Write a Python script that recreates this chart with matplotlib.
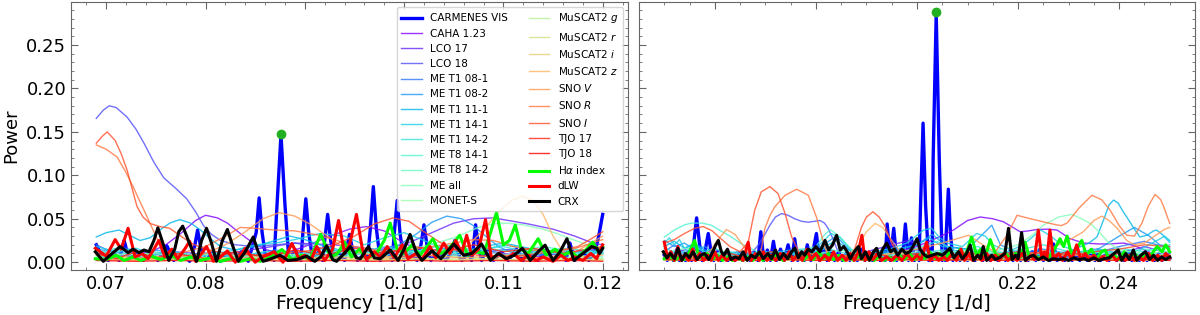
import numpy as np
import matplotlib
matplotlib.use("Agg")
import matplotlib.pyplot as plt
from matplotlib.ticker import MultipleLocator

# ---- data: (frequency [1/d], power) ----
# left panel 0.069-0.120, right panel 0.150-0.250

carm_L = [(0.0690,0.020),(0.0696,0.006),(0.0702,0.002),(0.0708,0.010),(0.0713,0.002),(0.0718,0.025),(0.0723,0.003),
          (0.0730,0.012),(0.0737,0.002),(0.0745,0.008),(0.0752,0.002),(0.0761,0.019),(0.0768,0.002),(0.0776,0.010),
          (0.0784,0.001),(0.0789,0.018),(0.0792,0.037),(0.0795,0.018),(0.0800,0.002),(0.0808,0.012),(0.0815,0.001),
          (0.0822,0.010),(0.0829,0.002),(0.0836,0.012),(0.0843,0.001),(0.0851,0.034),(0.0854,0.074),(0.0857,0.034),
          (0.0861,0.002),(0.0866,0.010),(0.0869,0.002),(0.0872,0.066),(0.0876,0.147),(0.0880,0.066),(0.0884,0.002),
          (0.0890,0.015),(0.0896,0.002),(0.0898,0.033),(0.0901,0.073),(0.0904,0.033),(0.0908,0.002),(0.0914,0.012),
          (0.0918,0.002),(0.0920,0.025),(0.0923,0.055),(0.0926,0.025),(0.0930,0.002),(0.0935,0.010),(0.0940,0.002),
          (0.0942,0.015),(0.0945,0.032),(0.0948,0.015),(0.0953,0.002),(0.0959,0.008),(0.0963,0.002),(0.0966,0.039),
          (0.0969,0.087),(0.0972,0.039),(0.0976,0.002),(0.0983,0.012),(0.0988,0.002),(0.0990,0.032),(0.0993,0.071),
          (0.0996,0.032),(0.1000,0.002),(0.1007,0.010),(0.1013,0.002),(0.1017,0.020),(0.1020,0.043),(0.1023,0.020),
          (0.1027,0.002),(0.1035,0.012),(0.1042,0.002),(0.1048,0.012),(0.1051,0.025),(0.1055,0.008),(0.1058,0.002),
          (0.1065,0.010),(0.1068,0.002),(0.1070,0.020),(0.1072,0.043),(0.1075,0.018),(0.1078,0.002),(0.1083,0.015),
          (0.1090,0.002),(0.1098,0.012),(0.1105,0.002),(0.1113,0.015),(0.1120,0.002),(0.1128,0.010),(0.1135,0.002),
          (0.1143,0.014),(0.1150,0.002),(0.1158,0.010),(0.1163,0.002),(0.1167,0.022),(0.1172,0.002),(0.1180,0.012),
          (0.1186,0.002),(0.1193,0.015),(0.1196,0.030),(0.1200,0.055)]

carm_R = [(0.1500,0.008),(0.1506,0.002),(0.1512,0.010),(0.1518,0.002),(0.1524,0.014),(0.1530,0.002),(0.1536,0.008),
          (0.1542,0.002),(0.1548,0.012),(0.1554,0.002),(0.1558,0.020),(0.1564,0.051),(0.1570,0.020),(0.1575,0.002),
          (0.1581,0.014),(0.1587,0.033),(0.1593,0.010),(0.1598,0.002),(0.1605,0.012),(0.1612,0.002),(0.1619,0.010),
          (0.1626,0.002),(0.1633,0.008),(0.1640,0.002),(0.1648,0.010),(0.1655,0.002),(0.1662,0.008),(0.1670,0.002),
          (0.1678,0.012),(0.1685,0.002),(0.1691,0.035),(0.1697,0.002),(0.1704,0.014),(0.1710,0.002),(0.1716,0.024),
          (0.1722,0.002),(0.1730,0.015),(0.1737,0.002),(0.1745,0.020),(0.1752,0.002),(0.1758,0.027),(0.1764,0.002),
          (0.1771,0.012),(0.1777,0.002),(0.1783,0.020),(0.1790,0.002),(0.1795,0.015),(0.1801,0.033),(0.1807,0.002),
          (0.1815,0.015),(0.1822,0.002),(0.1830,0.012),(0.1837,0.002),(0.1845,0.012),(0.1852,0.002),(0.1860,0.010),
          (0.1867,0.002),(0.1875,0.012),(0.1882,0.002),(0.1890,0.015),(0.1897,0.002),(0.1905,0.010),(0.1912,0.002),
          (0.1920,0.012),(0.1927,0.002),(0.1934,0.010),(0.1937,0.002),(0.1941,0.044),(0.1947,0.002),(0.1954,0.039),
          (0.1960,0.002),(0.1966,0.012),(0.1971,0.002),(0.1977,0.044),(0.1983,0.002),(0.1989,0.028),(0.1995,0.002),
          (0.2000,0.010),(0.2004,0.002),(0.2007,0.065),(0.2012,0.160),(0.2017,0.065),(0.2023,0.002),(0.2027,0.015),
          (0.2030,0.002),(0.2032,0.120),(0.2038,0.2865),(0.2044,0.120),(0.2050,0.002),(0.2053,0.012),(0.2056,0.002),
          (0.2058,0.035),(0.2062,0.084),(0.2066,0.035),(0.2071,0.002),(0.2078,0.012),(0.2085,0.002),(0.2093,0.010),
          (0.2100,0.002),(0.2108,0.008),(0.2115,0.002),(0.2123,0.012),(0.2130,0.002),(0.2138,0.008),(0.2145,0.002),
          (0.2153,0.010),(0.2160,0.002),(0.2168,0.008),(0.2175,0.002),(0.2183,0.012),(0.2190,0.002),(0.2198,0.008),
          (0.2205,0.002),(0.2213,0.010),(0.2220,0.002),(0.2228,0.012),(0.2235,0.002),(0.2243,0.015),(0.2250,0.002),
          (0.2257,0.010),(0.2263,0.002),(0.2270,0.021),(0.2277,0.002),(0.2285,0.010),(0.2292,0.002),(0.2300,0.008),
          (0.2307,0.002),(0.2315,0.010),(0.2322,0.002),(0.2330,0.008),(0.2337,0.002),(0.2345,0.010),(0.2352,0.002),
          (0.2357,0.014),(0.2363,0.002),(0.2372,0.008),(0.2380,0.002),(0.2388,0.010),(0.2395,0.002),(0.2403,0.008),
          (0.2410,0.002),(0.2418,0.012),(0.2425,0.002),(0.2433,0.008),(0.2440,0.002),(0.2448,0.010),(0.2455,0.002),
          (0.2463,0.008),(0.2470,0.002),(0.2478,0.010),(0.2485,0.002),(0.2493,0.008),(0.2500,0.004)]

# highest peaks (green dots)
peak_f = [0.0876, 0.2038]
peak_p = [0.147, 0.2875]

crx_L = [(0.0689,0.012),(0.0697,0.001),(0.0706,0.010),(0.0714,0.018),(0.0722,0.011),(0.0727,0.015),(0.0733,0.011),
         (0.0738,0.014),(0.0743,0.012),(0.0748,0.025),(0.0752,0.0395),(0.0757,0.022),(0.0763,0.002),(0.0769,0.015),
         (0.0773,0.035),(0.0777,0.0415),(0.0781,0.030),(0.0791,0.001),(0.0796,0.025),(0.0801,0.039),(0.0806,0.022),
         (0.0811,0.001),(0.0817,0.025),(0.0822,0.0376),(0.0827,0.020),(0.0833,0.001),(0.0840,0.012),(0.0848,0.029),
         (0.0853,0.012),(0.0858,0.001),(0.0866,0.004),(0.0875,0.008),(0.0883,0.002),(0.0892,0.003),(0.0902,0.007),
         (0.0910,0.001),(0.0916,0.006),(0.0922,0.019),(0.0928,0.003),(0.0932,0.001),(0.0938,0.008),(0.0946,0.018),
         (0.0952,0.005),(0.0956,0.004),(0.0964,0.018),(0.0970,0.005),(0.0976,0.004),(0.0986,0.014),(0.0994,0.002),
         (0.1000,0.015),(0.1006,0.032),(0.1012,0.012),(0.1018,0.002),(0.1028,0.013),(0.1037,0.004),(0.1050,0.021),
         (0.1060,0.008),(0.1068,0.010),(0.1078,0.021),(0.1087,0.002),(0.1095,0.010),(0.1103,0.004),(0.1111,0.008),
         (0.1119,0.016),(0.1127,0.002),(0.1135,0.012),(0.1142,0.0196),(0.1150,0.002),(0.1157,0.012),(0.1164,0.027),
         (0.1171,0.002),(0.1180,0.010),(0.1189,0.018),(0.1194,0.016),(0.1197,0.010),(0.1200,0.016)]

crx_R = [(0.1498,0.012),(0.1505,0.005),(0.1512,0.010),(0.1520,0.004),(0.1527,0.016),(0.1535,0.002),(0.1542,0.010),
         (0.1550,0.005),(0.1557,0.012),(0.1565,0.003),(0.1572,0.008),(0.1580,0.010),(0.1588,0.003),(0.1596,0.012),
         (0.1602,0.020),(0.1607,0.025),(0.1613,0.012),(0.1618,0.008),(0.1625,0.015),(0.1632,0.003),(0.1640,0.006),
         (0.1648,0.004),(0.1656,0.012),(0.1664,0.002),(0.1672,0.008),(0.1680,0.005),(0.1688,0.012),(0.1696,0.004),
         (0.1705,0.010),(0.1712,0.004),(0.1720,0.014),(0.1728,0.003),(0.1736,0.010),(0.1744,0.004),(0.1752,0.012),
         (0.1758,0.016),(0.1765,0.005),(0.1772,0.012),(0.1778,0.008),(0.1785,0.015),(0.1792,0.012),(0.1800,0.018),
         (0.1808,0.012),(0.1818,0.025),(0.1825,0.014),(0.1833,0.020),(0.1841,0.031),(0.1848,0.014),(0.1855,0.018),
         (0.1862,0.012),(0.1868,0.004),(0.1876,0.012),(0.1884,0.018),(0.1890,0.004),(0.1898,0.012),(0.1906,0.002),
         (0.1914,0.012),(0.1920,0.016),(0.1926,0.006),(0.1932,0.015),(0.1940,0.022),(0.1948,0.012),(0.1955,0.015),
         (0.1962,0.008),(0.1970,0.015),(0.1978,0.010),(0.1986,0.012),(0.1994,0.020),(0.2000,0.027),(0.2006,0.015),
         (0.2012,0.010),(0.2020,0.006),(0.2030,0.008),(0.2040,0.010),(0.2050,0.008),(0.2058,0.012),(0.2065,0.016),
         (0.2073,0.005),(0.2082,0.012),(0.2090,0.004),(0.2098,0.010),(0.2105,0.0196),(0.2112,0.002),(0.2120,0.008),
         (0.2126,0.004),(0.2131,0.018),(0.2138,0.002),(0.2148,0.008),(0.2155,0.003),(0.2165,0.006),(0.2174,0.010),
         (0.2181,0.039),(0.2188,0.003),(0.2195,0.008),(0.2200,0.004),(0.2207,0.034),(0.2214,0.002),(0.2222,0.006),
         (0.2230,0.008),(0.2240,0.003),(0.2250,0.006),(0.2260,0.002),(0.2270,0.004),(0.2280,0.003),(0.2290,0.004),
         (0.2300,0.002),(0.2310,0.005),(0.2320,0.003),(0.2330,0.004),(0.2340,0.002),(0.2350,0.005),(0.2360,0.002),
         (0.2370,0.004),(0.2380,0.005),(0.2390,0.010),(0.2398,0.014),(0.2405,0.002),(0.2413,0.010),(0.2420,0.003),
         (0.2428,0.014),(0.2435,0.002),(0.2443,0.008),(0.2452,0.012),(0.2460,0.003),(0.2468,0.008),(0.2476,0.002),
         (0.2484,0.006),(0.2492,0.003),(0.2500,0.006)]

dlw_L = [(0.0689,0.016),(0.0700,0.007),(0.0709,0.026),(0.0715,0.015),(0.0722,0.039),(0.0729,0.006),(0.0736,0.010),
         (0.0742,0.004),(0.0748,0.015),(0.0753,0.025),(0.0759,0.006),(0.0766,0.015),(0.0772,0.004),(0.0779,0.015),
         (0.0784,0.024),(0.0790,0.001),(0.0796,0.010),(0.0801,0.018),(0.0808,0.001),(0.0815,0.006),(0.0822,0.013),
         (0.0830,0.000),(0.0840,0.016),(0.0850,0.000),(0.0857,0.006),(0.0869,0.012),(0.0878,0.000),(0.0887,0.0215),
         (0.0894,0.004),(0.0900,0.008),(0.0906,0.002),(0.0912,0.018),(0.0920,0.002),(0.0928,0.015),(0.0934,0.048),
         (0.0940,0.010),(0.0945,0.020),(0.0952,0.055),(0.0958,0.015),(0.0962,0.003),(0.0970,0.012),(0.0976,0.006),
         (0.0983,0.018),(0.0990,0.005),(0.0998,0.020),(0.1004,0.004),(0.1012,0.010),(0.1018,0.003),(0.1026,0.018),
         (0.1032,0.005),(0.1040,0.022),(0.1046,0.010),(0.1052,0.025),(0.1058,0.010),(0.1063,0.031),(0.1068,0.008),
         (0.1075,0.015),(0.1082,0.049),(0.1088,0.004),(0.1096,0.010),(0.1103,0.003),(0.1110,0.010),(0.1118,0.002),
         (0.1125,0.008),(0.1133,0.002),(0.1140,0.006),(0.1150,0.001),(0.1158,0.008),(0.1165,0.002),(0.1172,0.006),
         (0.1180,0.002),(0.1188,0.010),(0.1194,0.004),(0.1200,0.020)]

dlw_R = [(0.1500,0.023),(0.1507,0.004),(0.1513,0.012),(0.1520,0.002),(0.1527,0.018),(0.1533,0.002),(0.1540,0.008),
         (0.1548,0.002),(0.1556,0.015),(0.1562,0.002),(0.1570,0.010),(0.1578,0.002),(0.1586,0.008),(0.1593,0.002),
         (0.1600,0.012),(0.1607,0.002),(0.1615,0.008),(0.1623,0.002),(0.1631,0.006),(0.1640,0.002),(0.1648,0.006),
         (0.1656,0.002),(0.1666,0.023),(0.1672,0.002),(0.1680,0.010),(0.1688,0.002),(0.1696,0.012),(0.1703,0.002),
         (0.1712,0.008),(0.1720,0.002),(0.1730,0.010),(0.1738,0.002),(0.1747,0.012),(0.1755,0.002),(0.1765,0.010),
         (0.1773,0.002),(0.1782,0.015),(0.1790,0.003),(0.1800,0.010),(0.1808,0.002),(0.1818,0.008),(0.1826,0.002),
         (0.1835,0.012),(0.1843,0.002),(0.1852,0.008),(0.1860,0.002),(0.1868,0.010),(0.1876,0.002),(0.1884,0.012),
         (0.1891,0.031),(0.1897,0.002),(0.1905,0.012),(0.1913,0.003),(0.1922,0.010),(0.1930,0.002),(0.1940,0.006),
         (0.1950,0.002),(0.1960,0.008),(0.1970,0.002),(0.1980,0.010),(0.1990,0.002),(0.2000,0.008),(0.2008,0.003),
         (0.2019,0.023),(0.2026,0.002),(0.2035,0.008),(0.2043,0.002),(0.2053,0.006),(0.2060,0.002),(0.2070,0.010),
         (0.2078,0.002),(0.2087,0.015),(0.2094,0.002),(0.2102,0.010),(0.2110,0.002),(0.2120,0.008),(0.2128,0.002),
         (0.2138,0.010),(0.2146,0.002),(0.2155,0.008),(0.2163,0.002),(0.2172,0.010),(0.2180,0.002),(0.2190,0.008),
         (0.2198,0.002),(0.2208,0.010),(0.2216,0.002),(0.2225,0.008),(0.2232,0.003),(0.2240,0.037),(0.2247,0.004),
         (0.2252,0.012),(0.2257,0.004),(0.2263,0.037),(0.2270,0.003),(0.2280,0.010),(0.2288,0.002),(0.2298,0.012),
         (0.2306,0.003),(0.2316,0.020),(0.2324,0.003),(0.2333,0.010),(0.2341,0.002),(0.2350,0.008),(0.2358,0.002),
         (0.2368,0.006),(0.2376,0.002),(0.2386,0.008),(0.2394,0.002),(0.2404,0.006),(0.2412,0.002),(0.2422,0.008),
         (0.2430,0.002),(0.2440,0.006),(0.2448,0.002),(0.2458,0.010),(0.2466,0.002),(0.2476,0.008),(0.2484,0.002),
         (0.2492,0.010),(0.2500,0.005)]

ha_L = [(0.0689,0.004),(0.0700,0.003),(0.0710,0.008),(0.0718,0.002),(0.0727,0.006),(0.0735,0.002),(0.0745,0.007),
        (0.0755,0.003),(0.0765,0.008),(0.0775,0.002),(0.0785,0.006),(0.0795,0.002),(0.0805,0.005),(0.0815,0.001),
        (0.0825,0.004),(0.0835,0.001),(0.0845,0.004),(0.0855,0.001),(0.0866,0.006),(0.0877,0.0146),(0.0887,0.003),
        (0.0897,0.008),(0.0905,0.003),(0.0916,0.032),(0.0926,0.006),(0.0933,0.010),(0.0940,0.023),(0.0947,0.006),
        (0.0955,0.015),(0.0962,0.004),(0.0972,0.010),(0.0980,0.025),(0.0986,0.045),(0.0993,0.015),(0.1000,0.010),
        (0.1008,0.020),(0.1016,0.008),(0.1023,0.018),(0.1029,0.027),(0.1036,0.010),(0.1045,0.015),(0.1056,0.031),
        (0.1064,0.008),(0.1072,0.012),(0.1080,0.010),(0.1086,0.030),(0.1093,0.057),(0.1100,0.020),(0.1106,0.025),
        (0.1112,0.0426),(0.1118,0.015),(0.1125,0.010),(0.1135,0.027),(0.1143,0.008),(0.1152,0.015),(0.1160,0.008),
        (0.1168,0.012),(0.1175,0.006),(0.1183,0.014),(0.1190,0.023),(0.1196,0.012),(0.1200,0.018)]

ha_R = [(0.1500,0.004),(0.1510,0.008),(0.1520,0.002),(0.1530,0.006),(0.1540,0.003),(0.1550,0.012),(0.1560,0.025),
        (0.1568,0.008),(0.1575,0.004),(0.1585,0.010),(0.1595,0.003),(0.1605,0.008),(0.1615,0.002),(0.1625,0.006),
        (0.1635,0.002),(0.1645,0.005),(0.1655,0.002),(0.1665,0.006),(0.1675,0.002),(0.1685,0.008),(0.1695,0.002),
        (0.1705,0.006),(0.1715,0.003),(0.1725,0.010),(0.1735,0.002),(0.1745,0.008),(0.1755,0.003),(0.1765,0.010),
        (0.1775,0.002),(0.1785,0.008),(0.1795,0.003),(0.1805,0.012),(0.1815,0.004),(0.1825,0.010),(0.1835,0.003),
        (0.1845,0.008),(0.1855,0.002),(0.1865,0.006),(0.1875,0.002),(0.1885,0.008),(0.1895,0.003),(0.1905,0.006),
        (0.1915,0.002),(0.1925,0.007),(0.1935,0.002),(0.1945,0.006),(0.1955,0.002),(0.1965,0.008),(0.1975,0.003),
        (0.1985,0.010),(0.1995,0.003),(0.2005,0.008),(0.2015,0.004),(0.2025,0.012),(0.2035,0.004),(0.2045,0.010),
        (0.2055,0.003),(0.2065,0.012),(0.2075,0.004),(0.2085,0.015),(0.2095,0.006),(0.2108,0.029),(0.2118,0.008),
        (0.2126,0.015),(0.2135,0.006),(0.2145,0.026),(0.2155,0.010),(0.2165,0.004),(0.2175,0.010),(0.2185,0.004),
        (0.2195,0.010),(0.2205,0.006),(0.2214,0.023),(0.2222,0.006),(0.2232,0.008),(0.2242,0.004),(0.2252,0.010),
        (0.2262,0.006),(0.2272,0.015),(0.2283,0.027),(0.2290,0.018),(0.2297,0.030),(0.2305,0.010),(0.2315,0.015),
        (0.2326,0.025),(0.2335,0.008),(0.2345,0.015),(0.2355,0.004),(0.2365,0.012),(0.2372,0.014),(0.2380,0.004),
        (0.2390,0.008),(0.2400,0.003),(0.2410,0.012),(0.2420,0.004),(0.2430,0.010),(0.2440,0.004),(0.2450,0.008),
        (0.2460,0.006),(0.2475,0.018),(0.2485,0.012),(0.2492,0.020),(0.2500,0.012)]

# photometric time series (thin lines, rainbow colours)
phot_names = ["CAHA 1.23", "LCO 17", "LCO 18", "ME T1 08-1", "ME T1 08-2", "ME T1 11-1", "ME T1 14-1",
              "ME T1 14-2", "ME T8 14-1", "ME T8 14-2", "ME all", "MONET-S", "MuSCAT2 $g$", "MuSCAT2 $r$",
              "MuSCAT2 $i$", "MuSCAT2 $z$", "SNO $V$", "SNO $R$", "SNO $I$", "TJO 17", "TJO 18"]

phot_L = [
    # CAHA 1.23
    [(0.0690,0.012),(0.0720,0.008),(0.0745,0.012),(0.0760,0.020),(0.0775,0.033),(0.0790,0.048),(0.0800,0.054),
     (0.0812,0.051),(0.0822,0.045),(0.0835,0.033),(0.0848,0.022),(0.0862,0.014),(0.0880,0.010),(0.0900,0.018),
     (0.0925,0.030),(0.0945,0.038),(0.0962,0.041),(0.0980,0.036),(0.1000,0.022),(0.1020,0.012),(0.1050,0.008),
     (0.1080,0.012),(0.1100,0.010),(0.1130,0.006),(0.1160,0.010),(0.1200,0.015)],
    # LCO 17
    [(0.0690,0.010),(0.0730,0.006),(0.0770,0.012),(0.0810,0.008),(0.0850,0.015),(0.0890,0.022),(0.0930,0.020),
     (0.0970,0.015),(0.1000,0.020),(0.1030,0.035),(0.1050,0.045),(0.1070,0.050),(0.1090,0.051),(0.1110,0.047),
     (0.1125,0.044),(0.1150,0.038),(0.1172,0.030),(0.1190,0.022),(0.1200,0.020)],
    # LCO 18
    [(0.0690,0.1655),(0.0697,0.175),(0.0703,0.180),(0.0710,0.178),(0.0721,0.167),(0.0730,0.153),(0.0738,0.137),
     (0.0748,0.115),(0.0758,0.097),(0.0770,0.085),(0.0781,0.073),(0.0790,0.058),(0.0798,0.042),(0.0806,0.032),
     (0.0815,0.025),(0.0830,0.020),(0.0850,0.018),(0.0870,0.020),(0.0890,0.022),(0.0910,0.018),(0.0930,0.012),
     (0.0960,0.010),(0.0990,0.014),(0.1020,0.012),(0.1050,0.008),(0.1080,0.012),(0.1110,0.015),(0.1140,0.010),
     (0.1170,0.012),(0.1200,0.016)],
    # ME T1 08-1
    [(0.0690,0.020),(0.0705,0.012),(0.0720,0.016),(0.0740,0.008),(0.0760,0.012),(0.0780,0.006),(0.0800,0.010),
     (0.0830,0.005),(0.0860,0.010),(0.0890,0.006),(0.0920,0.012),(0.0950,0.008),(0.0980,0.014),(0.1010,0.010),
     (0.1040,0.016),(0.1070,0.010),(0.1100,0.014),(0.1130,0.008),(0.1160,0.012),(0.1200,0.010)],
    # ME T1 08-2
    [(0.0690,0.015),(0.0720,0.010),(0.0750,0.014),(0.0780,0.008),(0.0810,0.012),(0.0840,0.008),(0.0870,0.014),
     (0.0900,0.010),(0.0940,0.014),(0.0970,0.012),(0.0995,0.020),(0.1013,0.033),(0.1028,0.046),(0.1043,0.053),
     (0.1058,0.050),(0.1070,0.042),(0.1080,0.032),(0.1095,0.018),(0.1110,0.010),(0.1140,0.008),(0.1170,0.012),
     (0.1200,0.010)],
    # ME T1 11-1
    [(0.0690,0.029),(0.0700,0.034),(0.0713,0.037),(0.0725,0.030),(0.0734,0.025),(0.0744,0.028),(0.0754,0.037),
     (0.0764,0.045),(0.0774,0.049),(0.0785,0.045),(0.0795,0.037),(0.0805,0.027),(0.0815,0.018),(0.0830,0.014),
     (0.0850,0.018),(0.0870,0.025),(0.0885,0.030),(0.0900,0.026),(0.0915,0.020),(0.0935,0.014),(0.0960,0.010),
     (0.0990,0.015),(0.1020,0.012),(0.1050,0.010),(0.1080,0.018),(0.1100,0.022),(0.1130,0.015),(0.1160,0.010),
     (0.1200,0.012)],
    # ME T1 14-1
    [(0.0690,0.018),(0.0710,0.012),(0.0730,0.016),(0.0750,0.008),(0.0770,0.012),(0.0790,0.006),(0.0810,0.010),
     (0.0830,0.014),(0.0850,0.020),(0.0870,0.022),(0.0890,0.026),(0.0915,0.033),(0.0940,0.030),(0.0960,0.020),
     (0.0980,0.028),(0.1000,0.034),(0.1020,0.025),(0.1040,0.015),(0.1060,0.010),(0.1080,0.014),(0.1100,0.020),
     (0.1120,0.016),(0.1140,0.010),(0.1160,0.014),(0.1180,0.010),(0.1200,0.014)],
    # ME T1 14-2
    [(0.0690,0.010),(0.0710,0.016),(0.0730,0.008),(0.0750,0.012),(0.0770,0.005),(0.0800,0.010),(0.0830,0.006),
     (0.0860,0.012),(0.0890,0.008),(0.0920,0.016),(0.0950,0.010),(0.0980,0.018),(0.1010,0.012),(0.1040,0.020),
     (0.1070,0.014),(0.1100,0.018),(0.1130,0.010),(0.1160,0.016),(0.1200,0.012)],
    # ME T8 14-1
    [(0.0690,0.008),(0.0720,0.014),(0.0750,0.006),(0.0780,0.010),(0.0810,0.004),(0.0840,0.008),(0.0870,0.005),
     (0.0900,0.010),(0.0930,0.006),(0.0960,0.012),(0.0990,0.008),(0.1020,0.014),(0.1050,0.010),(0.1080,0.016),
     (0.1110,0.012),(0.1140,0.018),(0.1170,0.012),(0.1200,0.010)],
    # ME T8 14-2
    [(0.0690,0.006),(0.0720,0.010),(0.0750,0.004),(0.0780,0.008),(0.0810,0.003),(0.0840,0.007),(0.0870,0.004),
     (0.0900,0.008),(0.0930,0.005),(0.0960,0.010),(0.0990,0.006),(0.1020,0.012),(0.1050,0.008),(0.1080,0.012),
     (0.1110,0.008),(0.1140,0.012),(0.1170,0.008),(0.1200,0.006)],
    # ME all
    [(0.0690,0.012),(0.0720,0.008),(0.0750,0.010),(0.0780,0.006),(0.0810,0.010),(0.0840,0.006),(0.0870,0.010),
     (0.0900,0.008),(0.0930,0.012),(0.0960,0.010),(0.0990,0.014),(0.1020,0.018),(0.1050,0.028),(0.1075,0.040),
     (0.1090,0.044),(0.1103,0.045),(0.1120,0.043),(0.1140,0.038),(0.1154,0.033),(0.1170,0.026),(0.1185,0.020),
     (0.1200,0.016)],
    # MONET-S
    [(0.0690,0.004),(0.0710,0.008),(0.0730,0.003),(0.0750,0.006),(0.0780,0.002),(0.0810,0.006),(0.0840,0.003),
     (0.0870,0.007),(0.0900,0.004),(0.0930,0.008),(0.0960,0.004),(0.0990,0.006),(0.1020,0.003),(0.1050,0.007),
     (0.1080,0.004),(0.1110,0.008),(0.1140,0.004),(0.1170,0.006),(0.1200,0.004)],
    # MuSCAT2 g
    [(0.0690,0.003),(0.0720,0.006),(0.0750,0.002),(0.0780,0.005),(0.0810,0.002),(0.0840,0.004),(0.0870,0.002),
     (0.0900,0.005),(0.0930,0.002),(0.0960,0.004),(0.0990,0.002),(0.1020,0.005),(0.1050,0.002),(0.1080,0.004),
     (0.1110,0.002),(0.1140,0.005),(0.1170,0.002),(0.1200,0.003)],
    # MuSCAT2 r
    [(0.0690,0.002),(0.0730,0.004),(0.0770,0.002),(0.0810,0.004),(0.0850,0.002),(0.0890,0.004),(0.0930,0.002),
     (0.0970,0.004),(0.1010,0.002),(0.1050,0.004),(0.1090,0.002),(0.1130,0.004),(0.1170,0.002),(0.1200,0.003)],
    # MuSCAT2 i
    [(0.0690,0.003),(0.0730,0.002),(0.0770,0.004),(0.0810,0.002),(0.0850,0.004),(0.0890,0.002),(0.0930,0.004),
     (0.0970,0.002),(0.1010,0.004),(0.1050,0.002),(0.1090,0.004),(0.1130,0.002),(0.1170,0.004),(0.1200,0.002)],
    # MuSCAT2 z
    [(0.0690,0.008),(0.0730,0.005),(0.0770,0.008),(0.0810,0.004),(0.0850,0.006),(0.0890,0.004),(0.0930,0.006),
     (0.0970,0.004),(0.1010,0.006),(0.1040,0.010),(0.1065,0.020),(0.1080,0.037),(0.1095,0.058),(0.1108,0.071),
     (0.1119,0.076),(0.1130,0.071),(0.1140,0.055),(0.1150,0.030),(0.1160,0.012),(0.1175,0.006),(0.1200,0.008)],
    # SNO V
    [(0.0690,0.004),(0.0730,0.003),(0.0770,0.006),(0.0800,0.010),(0.0820,0.020),(0.0840,0.035),(0.0858,0.050),
     (0.0874,0.057),(0.0890,0.053),(0.0905,0.044),(0.0920,0.032),(0.0935,0.020),(0.0950,0.012),(0.0980,0.006),
     (0.1020,0.008),(0.1060,0.005),(0.1100,0.008),(0.1140,0.005),(0.1170,0.010),(0.1200,0.030)],
    # SNO R
    [(0.0690,0.135),(0.0700,0.130),(0.0711,0.121),(0.0720,0.103),(0.0727,0.087),(0.0733,0.072),(0.0738,0.060),
     (0.0744,0.045),(0.0750,0.030),(0.0756,0.015),(0.0765,0.008),(0.0780,0.012),(0.0800,0.018),(0.0820,0.030),
     (0.0835,0.040),(0.0850,0.039),(0.0870,0.037),(0.0890,0.036),(0.0910,0.032),(0.0930,0.026),(0.0950,0.018),
     (0.0980,0.012),(0.1010,0.015),(0.1040,0.020),(0.1070,0.026),(0.1090,0.025),(0.1110,0.018),(0.1140,0.012),
     (0.1170,0.015),(0.1200,0.026)],
    # SNO I
    [(0.0690,0.137),(0.0696,0.145),(0.0701,0.150),(0.0709,0.140),(0.0715,0.125),(0.0721,0.106),(0.0726,0.085),
     (0.0731,0.064),(0.0737,0.052),(0.0744,0.0446),(0.0754,0.041),(0.0764,0.039),(0.0775,0.030),(0.0787,0.021),
     (0.0800,0.015),(0.0820,0.010),(0.0850,0.008),(0.0880,0.010),(0.0910,0.014),(0.0930,0.020),(0.0950,0.030),
     (0.0970,0.044),(0.0989,0.051),(0.1005,0.047),(0.1020,0.035),(0.1040,0.020),(0.1060,0.010),(0.1090,0.006),
     (0.1120,0.008),(0.1150,0.012),(0.1175,0.018),(0.1190,0.028),(0.1200,0.035)],
    # TJO 17
    [(0.0690,0.010),(0.0710,0.004),(0.0730,0.012),(0.0750,0.005),(0.0770,0.010),(0.0800,0.004),(0.0830,0.012),
     (0.0860,0.006),(0.0890,0.014),(0.0920,0.008),(0.0950,0.016),(0.0980,0.010),(0.1010,0.018),(0.1040,0.012),
     (0.1070,0.020),(0.1100,0.012),(0.1130,0.016),(0.1160,0.010),(0.1200,0.018)],
    # TJO 18
    [(0.0690,0.002),(0.0730,0.001),(0.0770,0.002),(0.0810,0.001),(0.0850,0.002),(0.0890,0.001),(0.0930,0.002),
     (0.0970,0.001),(0.1010,0.002),(0.1050,0.001),(0.1090,0.002),(0.1130,0.001),(0.1170,0.002),(0.1200,0.001)],
]

phot_R = [
    # CAHA 1.23
    [(0.1500,0.005),(0.1550,0.008),(0.1600,0.004),(0.1650,0.006),(0.1700,0.004),(0.1750,0.006),(0.1800,0.004),
     (0.1850,0.006),(0.1900,0.004),(0.1950,0.010),(0.2000,0.018),(0.2040,0.028),(0.2072,0.037),(0.2100,0.048),
     (0.2125,0.052),(0.2150,0.050),(0.2171,0.0465),(0.2190,0.040),(0.2204,0.035),(0.2220,0.036),(0.2237,0.0376),
     (0.2258,0.038),(0.2277,0.037),(0.2303,0.027),(0.2330,0.022),(0.2360,0.021),(0.2380,0.021),(0.2409,0.022),
     (0.2430,0.019),(0.2450,0.014),(0.2475,0.008),(0.2500,0.005)],
    # LCO 17
    [(0.1500,0.010),(0.1550,0.015),(0.1600,0.008),(0.1650,0.012),(0.1700,0.006),(0.1750,0.010),(0.1800,0.005),
     (0.1850,0.008),(0.1900,0.012),(0.1950,0.020),(0.1985,0.025),(0.2010,0.015),(0.2050,0.010),(0.2100,0.006),
     (0.2150,0.010),(0.2200,0.006),(0.2250,0.012),(0.2300,0.008),(0.2350,0.015),(0.2400,0.010),(0.2450,0.018),
     (0.2500,0.010)],
    # LCO 18
    [(0.1500,0.008),(0.1550,0.012),(0.1600,0.006),(0.1650,0.010),(0.1675,0.012),(0.1686,0.0196),(0.1700,0.033),
     (0.1709,0.0426),(0.1720,0.052),(0.1732,0.056),(0.1745,0.054),(0.1758,0.050),(0.1772,0.047),(0.1785,0.046),
     (0.1797,0.047),(0.1808,0.048),(0.1817,0.045),(0.1824,0.039),(0.1833,0.028),(0.1841,0.016),(0.1850,0.006),
     (0.1860,0.004),(0.1900,0.010),(0.1950,0.005),(0.2000,0.010),(0.2050,0.006),(0.2100,0.010),(0.2150,0.006),
     (0.2200,0.012),(0.2250,0.008),(0.2300,0.010),(0.2350,0.006),(0.2400,0.012),(0.2450,0.008),(0.2500,0.010)],
    # ME T1 08-1
    [(0.1500,0.012),(0.1520,0.020),(0.1540,0.010),(0.1560,0.016),(0.1580,0.008),(0.1620,0.012),(0.1660,0.006),
     (0.1700,0.010),(0.1750,0.006),(0.1800,0.012),(0.1850,0.008),(0.1900,0.012),(0.1950,0.008),(0.2000,0.014),
     (0.2050,0.010),(0.2100,0.014),(0.2150,0.008),(0.2200,0.012),(0.2250,0.008),(0.2300,0.012),(0.2350,0.010),
     (0.2400,0.018),(0.2450,0.024),(0.2500,0.016)],
    # ME T1 08-2
    [(0.1500,0.025),(0.1520,0.018),(0.1540,0.022),(0.1560,0.014),(0.1580,0.018),(0.1600,0.010),(0.1650,0.008),
     (0.1700,0.012),(0.1750,0.010),(0.1800,0.014),(0.1840,0.030),(0.1870,0.012),(0.1900,0.008),(0.1950,0.012),
     (0.2000,0.020),(0.2030,0.032),(0.2060,0.018),(0.2100,0.015),(0.2148,0.0426),(0.2165,0.020),(0.2200,0.010),
     (0.2250,0.015),(0.2300,0.010),(0.2350,0.012),(0.2400,0.030),(0.2430,0.040),(0.2460,0.030),(0.2480,0.020),
     (0.2500,0.018)],
    # ME T1 11-1
    [(0.1500,0.018),(0.1520,0.024),(0.1540,0.016),(0.1560,0.022),(0.1580,0.014),(0.1600,0.010),(0.1650,0.008),
     (0.1700,0.012),(0.1750,0.010),(0.1800,0.012),(0.1840,0.025),(0.1870,0.012),(0.1900,0.008),(0.1950,0.014),
     (0.2000,0.020),(0.2025,0.028),(0.2050,0.018),(0.2100,0.015),(0.2150,0.012),(0.2200,0.010),(0.2250,0.008),
     (0.2300,0.012),(0.2340,0.022),(0.2356,0.029),(0.2370,0.050),(0.2380,0.066),(0.2389,0.0715),(0.2398,0.068),
     (0.2408,0.058),(0.2415,0.052),(0.2428,0.040),(0.2441,0.029),(0.2455,0.031),(0.2468,0.036),(0.2474,0.037),
     (0.2485,0.032),(0.2500,0.023)],
    # ME T1 14-1
    [(0.1500,0.022),(0.1510,0.028),(0.1520,0.020),(0.1530,0.026),(0.1540,0.016),(0.1560,0.020),(0.1580,0.012),
     (0.1600,0.016),(0.1620,0.010),(0.1650,0.012),(0.1700,0.010),(0.1750,0.014),(0.1800,0.016),(0.1830,0.033),
     (0.1848,0.028),(0.1870,0.014),(0.1900,0.010),(0.1950,0.016),(0.1980,0.022),(0.2013,0.037),(0.2029,0.039),
     (0.2045,0.028),(0.2060,0.022),(0.2090,0.018),(0.2118,0.033),(0.2135,0.030),(0.2150,0.020),(0.2180,0.012),
     (0.2210,0.020),(0.2245,0.037),(0.2265,0.030),(0.2290,0.018),(0.2320,0.012),(0.2360,0.015),(0.2400,0.010),
     (0.2440,0.014),(0.2475,0.025),(0.2490,0.030),(0.2500,0.025)],
    # ME T1 14-2
    [(0.1500,0.016),(0.1530,0.010),(0.1560,0.018),(0.1590,0.008),(0.1630,0.012),(0.1680,0.006),(0.1730,0.010),
     (0.1780,0.008),(0.1820,0.016),(0.1860,0.010),(0.1900,0.006),(0.1950,0.010),(0.2000,0.016),(0.2040,0.024),
     (0.2080,0.012),(0.2120,0.018),(0.2160,0.010),(0.2200,0.014),(0.2250,0.020),(0.2300,0.012),(0.2350,0.010),
     (0.2400,0.016),(0.2450,0.012),(0.2500,0.020)],
    # ME T8 14-1
    [(0.1500,0.029),(0.1520,0.037),(0.1540,0.043),(0.1554,0.045),(0.1575,0.045),(0.1593,0.0426),(0.1612,0.036),
     (0.1633,0.029),(0.1650,0.022),(0.1665,0.0176),(0.1690,0.010),(0.1720,0.008),(0.1760,0.012),(0.1800,0.018),
     (0.1815,0.030),(0.1828,0.0376),(0.1848,0.029),(0.1865,0.018),(0.1880,0.010),(0.1920,0.008),(0.1960,0.012),
     (0.2000,0.010),(0.2050,0.014),(0.2100,0.010),(0.2150,0.012),(0.2200,0.008),(0.2250,0.012),(0.2300,0.010),
     (0.2350,0.014),(0.2400,0.010),(0.2450,0.015),(0.2500,0.012)],
    # ME T8 14-2
    [(0.1500,0.010),(0.1540,0.016),(0.1580,0.008),(0.1620,0.012),(0.1660,0.005),(0.1700,0.008),(0.1750,0.004),
     (0.1800,0.010),(0.1850,0.014),(0.1900,0.006),(0.1950,0.010),(0.2000,0.008),(0.2050,0.012),(0.2100,0.008),
     (0.2150,0.010),(0.2200,0.006),(0.2250,0.010),(0.2300,0.008),(0.2350,0.012),(0.2400,0.008),(0.2450,0.010),
     (0.2500,0.008)],
    # ME all
    [(0.1500,0.010),(0.1550,0.008),(0.1600,0.010),(0.1650,0.006),(0.1700,0.008),(0.1750,0.006),(0.1800,0.010),
     (0.1850,0.008),(0.1900,0.006),(0.1950,0.008),(0.2000,0.012),(0.2050,0.010),(0.2100,0.014),(0.2150,0.012),
     (0.2200,0.020),(0.2230,0.032),(0.2250,0.0426),(0.2280,0.052),(0.2307,0.055),(0.2325,0.050),(0.2343,0.0446),
     (0.2360,0.035),(0.2380,0.022),(0.2400,0.014),(0.2450,0.010),(0.2500,0.012)],
    # MONET-S
    [(0.1500,0.005),(0.1540,0.008),(0.1580,0.003),(0.1620,0.006),(0.1660,0.002),(0.1700,0.005),(0.1750,0.002),
     (0.1800,0.006),(0.1850,0.003),(0.1900,0.006),(0.1950,0.002),(0.2000,0.005),(0.2050,0.003),(0.2100,0.006),
     (0.2150,0.002),(0.2200,0.005),(0.2250,0.003),(0.2300,0.006),(0.2350,0.002),(0.2400,0.005),(0.2450,0.003),
     (0.2500,0.005)],
    # MuSCAT2 g
    [(0.1500,0.003),(0.1550,0.006),(0.1600,0.002),(0.1650,0.005),(0.1700,0.002),(0.1750,0.004),(0.1800,0.002),
     (0.1850,0.005),(0.1900,0.002),(0.1950,0.004),(0.2000,0.002),(0.2050,0.005),(0.2100,0.002),(0.2150,0.004),
     (0.2200,0.002),(0.2250,0.005),(0.2300,0.002),(0.2350,0.004),(0.2400,0.002),(0.2450,0.005),(0.2500,0.003)],
    # MuSCAT2 r
    [(0.1500,0.002),(0.1560,0.004),(0.1620,0.002),(0.1680,0.004),(0.1740,0.002),(0.1800,0.004),(0.1860,0.002),
     (0.1920,0.004),(0.1980,0.002),(0.2040,0.004),(0.2100,0.002),(0.2160,0.004),(0.2220,0.002),(0.2280,0.004),
     (0.2340,0.002),(0.2400,0.004),(0.2460,0.002),(0.2500,0.003)],
    # MuSCAT2 i
    [(0.1500,0.003),(0.1560,0.002),(0.1620,0.004),(0.1680,0.002),(0.1740,0.004),(0.1800,0.002),(0.1860,0.004),
     (0.1920,0.002),(0.1980,0.004),(0.2040,0.002),(0.2100,0.004),(0.2160,0.002),(0.2220,0.004),(0.2280,0.002),
     (0.2340,0.004),(0.2400,0.002),(0.2460,0.004),(0.2500,0.002)],
    # MuSCAT2 z
    [(0.1500,0.006),(0.1600,0.004),(0.1700,0.006),(0.1800,0.004),(0.1860,0.006),(0.1885,0.020),(0.1900,0.035),
     (0.1917,0.0446),(0.1932,0.040),(0.1950,0.025),(0.1970,0.010),(0.2000,0.005),(0.2100,0.008),(0.2200,0.005),
     (0.2300,0.008),(0.2400,0.006),(0.2500,0.008)],
    # SNO V
    [(0.1500,0.010),(0.1550,0.006),(0.1590,0.012),(0.1605,0.025),(0.1623,0.0376),(0.1640,0.032),(0.1655,0.020),
     (0.1670,0.008),(0.1700,0.004),(0.1750,0.006),(0.1800,0.004),(0.1850,0.008),(0.1900,0.006),(0.1950,0.010),
     (0.2000,0.015),(0.2050,0.022),(0.2102,0.031),(0.2130,0.020),(0.2160,0.010),(0.2200,0.008),(0.2250,0.012),
     (0.2300,0.025),(0.2329,0.035),(0.2350,0.048),(0.2366,0.053),(0.2380,0.048),(0.2396,0.039),(0.2415,0.025),
     (0.2430,0.020),(0.2450,0.022),(0.2470,0.030),(0.2490,0.038),(0.2500,0.040)],
    # SNO R
    [(0.1500,0.006),(0.1550,0.004),(0.1600,0.008),(0.1650,0.004),(0.1690,0.008),(0.1699,0.039),(0.1710,0.055),
     (0.1719,0.064),(0.1739,0.077),(0.1762,0.084),(0.1785,0.077),(0.1801,0.052),(0.1814,0.025),(0.1825,0.005),
     (0.1850,0.004),(0.1900,0.006),(0.1950,0.004),(0.2000,0.008),(0.2050,0.005),(0.2100,0.010),(0.2150,0.008),
     (0.2178,0.031),(0.2198,0.054),(0.2224,0.050),(0.2263,0.0446),(0.2285,0.042),(0.2297,0.045),(0.2320,0.062),
     (0.2346,0.077),(0.2365,0.072),(0.2382,0.060),(0.2400,0.042),(0.2415,0.031),(0.2430,0.030),(0.2445,0.045),
     (0.2458,0.065),(0.2471,0.078),(0.2482,0.072),(0.2488,0.064),(0.2500,0.0446)],
    # SNO I
    [(0.1500,0.022),(0.1520,0.026),(0.1540,0.033),(0.1560,0.039),(0.1577,0.041),(0.1595,0.036),(0.1610,0.028),
     (0.1630,0.018),(0.1650,0.012),(0.1666,0.023),(0.1679,0.060),(0.1692,0.081),(0.1709,0.087),(0.1725,0.079),
     (0.1739,0.056),(0.1752,0.029),(0.1772,0.005),(0.1800,0.004),(0.1850,0.006),(0.1874,0.010),(0.1890,0.040),
     (0.1900,0.052),(0.1913,0.058),(0.1925,0.052),(0.1937,0.041),(0.1950,0.022),(0.1965,0.006),(0.2000,0.004),
     (0.2050,0.008),(0.2100,0.005),(0.2150,0.008),(0.2200,0.012),(0.2250,0.010),(0.2300,0.008),(0.2350,0.012),
     (0.2400,0.015),(0.2450,0.020),(0.2500,0.018)],
    # TJO 17
    [(0.1500,0.012),(0.1530,0.006),(0.1560,0.014),(0.1590,0.005),(0.1630,0.010),(0.1670,0.004),(0.1710,0.012),
     (0.1750,0.006),(0.1800,0.010),(0.1850,0.004),(0.1900,0.012),(0.1950,0.006),(0.2000,0.010),(0.2050,0.004),
     (0.2100,0.012),(0.2150,0.006),(0.2200,0.010),(0.2250,0.005),(0.2300,0.012),(0.2350,0.006),(0.2400,0.010),
     (0.2450,0.005),(0.2500,0.008)],
    # TJO 18
    [(0.1500,0.003),(0.1560,0.002),(0.1620,0.003),(0.1680,0.002),(0.1740,0.003),(0.1800,0.002),(0.1860,0.003),
     (0.1920,0.002),(0.1980,0.003),(0.2040,0.002),(0.2100,0.003),(0.2160,0.002),(0.2220,0.003),(0.2280,0.002),
     (0.2340,0.003),(0.2400,0.002),(0.2460,0.003),(0.2500,0.002)],
]

# ---- figure ----
fig = plt.figure(figsize=(12, 3.15), dpi=100)
ax1 = fig.add_axes([71/1200, 45/315, 557/1200, 268/315])
ax2 = fig.add_axes([639/1200, 45/315, 556/1200, 268/315])

cols = plt.cm.rainbow(np.linspace(0, 1, len(phot_names)))

def xy(pts):
    f, p = zip(*pts)
    return np.array(f), np.array(p)

handles = []
for ax, carm, phot, ha, dlw, crx in [(ax1, carm_L, phot_L, ha_L, dlw_L, crx_L),
                                     (ax2, carm_R, phot_R, ha_R, dlw_R, crx_R)]:
    h = [ax.plot(*xy(carm), color='blue', lw=2.4, label='CARMENES VIS')[0]]
    for name, c, pts in zip(phot_names, cols, phot):
        h += ax.plot(*xy(pts), color=c, lw=1.0, alpha=0.8, label=name)
    h += ax.plot(*xy(ha), color='lime', lw=2.2, label=r'H$\alpha$ index')
    h += ax.plot(*xy(dlw), color='red', lw=2.2, label='dLW')
    h += ax.plot(*xy(crx), color='black', lw=2.2, label='CRX')
    handles = h

ax1.plot(peak_f[0], peak_p[0], 'o', color='#22b022', ms=6, zorder=10)
ax2.plot(peak_f[1], peak_p[1], 'o', color='#22b022', ms=6, zorder=10)

ax1.set_xlim(0.06645, 0.12255)
ax2.set_xlim(0.145, 0.255)
for ax in (ax1, ax2):
    ax.set_ylim(-0.009, 0.2995)
    ax.yaxis.set_major_locator(MultipleLocator(0.05))
    ax.yaxis.set_minor_locator(MultipleLocator(0.01))
    ax.tick_params(which='both', direction='in', top=True, right=True, color='0.4', labelsize=13)
    ax.tick_params(which='major', length=5)
    ax.tick_params(which='minor', length=2.5)
    for s in ax.spines.values():
        s.set_color('0.4')
    ax.set_xlabel('Frequency [1/d]', fontsize=13.5, labelpad=1)

ax1.xaxis.set_major_locator(MultipleLocator(0.01))
ax1.xaxis.set_minor_locator(MultipleLocator(0.002))
ax1.xaxis.set_major_formatter(plt.FormatStrFormatter('%.2f'))
ax2.xaxis.set_major_locator(MultipleLocator(0.02))
ax2.xaxis.set_minor_locator(MultipleLocator(0.005))
ax2.xaxis.set_major_formatter(plt.FormatStrFormatter('%.2f'))
ax1.yaxis.set_major_formatter(plt.FormatStrFormatter('%.2f'))
ax2.tick_params(labelleft=False)
ax1.set_ylabel('Power', fontsize=13)

ax1.legend(handles=handles, loc='upper right', ncol=2, fontsize=7.5, labelspacing=0.5,
           framealpha=0.8, borderaxespad=0.5)

fig.savefig('out.png', dpi=100)
